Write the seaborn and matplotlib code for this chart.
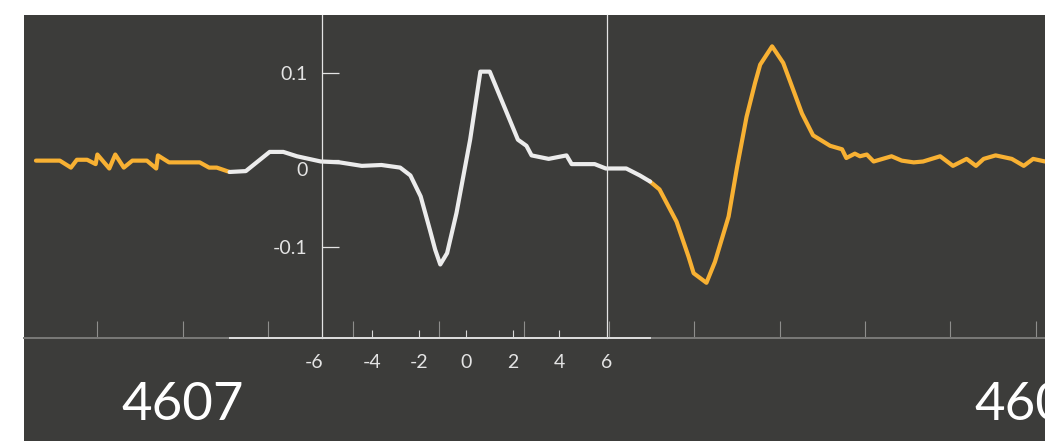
import numpy as np
import pandas as pd
import matplotlib
matplotlib.use("Agg")
import matplotlib.pyplot as plt
import seaborn as sns
from matplotlib.ticker import MultipleLocator, FuncFormatter
from matplotlib.transforms import ScaledTranslation

# ---------------- data ----------------
BASE_SECOND = 4607                       # record second shown at time offset 0
# time offset (ms) from BASE_SECOND and ECG amplitude (mV)
time_ms = [-172, -144, -131, -124, -112, -102, -100, -86, -79, -69, -59, -42, -31, -29, -16, 20, 31, 40, 55,
           74, 102, 118, 134, 162, 184, 210, 233, 255, 267, 279, 290, 296, 302, 310, 321, 337, 349, 360,
           393, 403, 409, 429, 450, 456, 483, 496, 520, 536, 548,
           559, 579, 593, 599, 614, 624, 640, 650, 661, 671, 677, 691, 704, 712, 726, 739, 759, 773, 778,
           788, 794, 802, 810, 831, 843, 857, 868, 888, 903, 919, 930, 939, 953, 972, 986, 997, 1011]
voltage_mv = [-0.001, -0.001, -0.009, 0.000, 0.000, -0.005, 0.006, -0.010, 0.006, -0.009, -0.001, -0.001,
              -0.010, 0.005, -0.003, -0.003, -0.009, -0.009, -0.014,
              -0.013, 0.009, 0.009, 0.004, -0.002, -0.003, -0.007, -0.006, -0.009, -0.018, -0.042, -0.081,
              -0.103, -0.120, -0.107, -0.061, 0.023, 0.101, 0.101, 0.023, 0.016, 0.005, 0.001, 0.005,
              -0.005, -0.005, -0.010, -0.010, -0.018, -0.025,
              -0.034, -0.071, -0.111, -0.130, -0.141, -0.117, -0.065, -0.008, 0.049, 0.088, 0.109, 0.130,
              0.111, 0.090, 0.053, 0.028, 0.016, 0.012, 0.002, 0.007, 0.004, 0.006, -0.002, 0.004, -0.001,
              -0.003, -0.002, 0.004, -0.007, 0.001, -0.007, 0.001, 0.005, 0.001, -0.007, 0.001, -0.002]
highlight_start_ms = 55                  # selected beat window (white trace)
highlight_end_ms = 548
beat_ticks = [-6, -4, -2, 0, 2, 4, 6]
volt_ticks = [0.1, 0, -0.1]
volt_labels = ["0.1", "0", "-0.1"]

# ---------------- layout / style constants ----------------
BEAT_CENTER_MS = 332.1
MS_PER_BEAT_UNIT = 27.4
WINDOW_LEFT_MS = 163.0
WINDOW_RIGHT_MS = 497.0
X_RANGE = (-186.0, 1010.9)
Y_RANGE = (-0.2037, 0.1659)

BG = "#3c3c3a"
ORANGE = "#f8b133"
TRACE_WHITE = "#ececec"
LIGHT = "#e4e4e4"
GREY_AXIS = "#7a7a78"

sns.set_theme(style="ticks")
plt.rcParams["font.family"] = ["Lato", "DejaVu Sans"]
plt.rcParams["axes.unicode_minus"] = False

W, H = 1045, 441
fig = plt.figure(figsize=(W / 100, H / 100), dpi=100, facecolor="white")
left = 24 / W
fig.add_artist(plt.Rectangle((left, 0), 1 - left, (H - 15) / H, transform=fig.transFigure,
                             facecolor=BG, edgecolor="none", zorder=-1))
ax = fig.add_axes([left, (H - 337.5) / H, 1 - left, (337.5 - 15) / H])
ax.set_facecolor("none")

# ---------------- trace ----------------
t = np.array(time_ms, dtype=float)
v = np.array(voltage_mv, dtype=float)
pieces = []
for seg, role, mask in [
    ("before", "context", t <= highlight_start_ms),
    ("beat", "selected", (t >= highlight_start_ms) & (t <= highlight_end_ms)),
    ("after", "context", t >= highlight_end_ms),
]:
    pieces.append(pd.DataFrame({"time_ms": t[mask], "voltage_mv": v[mask], "seg": seg, "role": role}))
df = pd.concat(pieces, ignore_index=True)

sns.lineplot(data=df, x="time_ms", y="voltage_mv", hue="role", units="seg", estimator=None,
             sort=False, palette={"context": ORANGE, "selected": TRACE_WHITE},
             linewidth=3, legend=False, ax=ax, zorder=2)

ax.set_xlim(*X_RANGE)
ax.set_ylim(*Y_RANGE)
ax.set(xlabel="", ylabel="")
ax.grid(False)

# spines
ax.spines["top"].set_visible(False)
ax.spines["left"].set_position(("data", WINDOW_LEFT_MS))
ax.spines["right"].set_position(("data", WINDOW_RIGHT_MS))
for s in ("left", "right"):
    ax.spines[s].set_color(LIGHT)
    ax.spines[s].set_linewidth(0.9)
ax.spines["bottom"].set_color(GREY_AXIS)
ax.spines["bottom"].set_linewidth(1.4)

# y axis (voltage)
ax.set_yticks(volt_ticks, volt_labels)
ax.tick_params(axis="y", direction="in", length=12.5, width=0.9, color=LIGHT,
               labelcolor=LIGHT, labelsize=14, pad=10, right=False)

# x axis (record time)
ax.xaxis.set_major_locator(MultipleLocator(100))
ax.xaxis.set_major_formatter(FuncFormatter(
    lambda val, pos: f"{BASE_SECOND + int(round(val / 1000))}" if abs(val - 1000 * round(val / 1000)) < 1e-6 else ""))
ax.tick_params(axis="x", direction="in", length=12.2, width=0.8, color="#8e8e8c",
               labelcolor="white", labelsize=38, pad=32)

# secondary axis (beat-relative units)
fwd = lambda x: (np.asarray(x) - BEAT_CENTER_MS) / MS_PER_BEAT_UNIT
inv = lambda u: np.asarray(u) * MS_PER_BEAT_UNIT + BEAT_CENTER_MS
sec = ax.secondary_xaxis("bottom", functions=(fwd, inv))
sec.set_xticks(beat_ticks)
sec.tick_params(direction="in", length=5.8, width=0.8, color="#d8d8d8",
                labelcolor=LIGHT, labelsize=14, pad=12)
sec.patch.set_visible(False)
sec.spines["top"].set_visible(False)
sec.spines["bottom"].set_bounds(float(fwd(highlight_start_ms)), float(fwd(highlight_end_ms)))
sec.spines["bottom"].set_color("#dedede")
sec.spines["bottom"].set_linewidth(1.4)
sec.set_zorder(3)

# fine adjustments of a few tick labels / marks
sticks = sec.xaxis.get_major_ticks()
sticks[0].tick1line.set_visible(False)
sticks[-1].tick1line.set_visible(False)
lab0 = sticks[0].label1
lab0.set_transform(lab0.get_transform() + ScaledTranslation(-0.12, 0, fig.dpi_scale_trans))
yticks = ax.yaxis.get_major_ticks()
ylab0 = yticks[1].label1
ylab0.set_transform(ylab0.get_transform() + ScaledTranslation(0, -0.09, fig.dpi_scale_trans))

fig.savefig("out.png", dpi=100, facecolor="white")
